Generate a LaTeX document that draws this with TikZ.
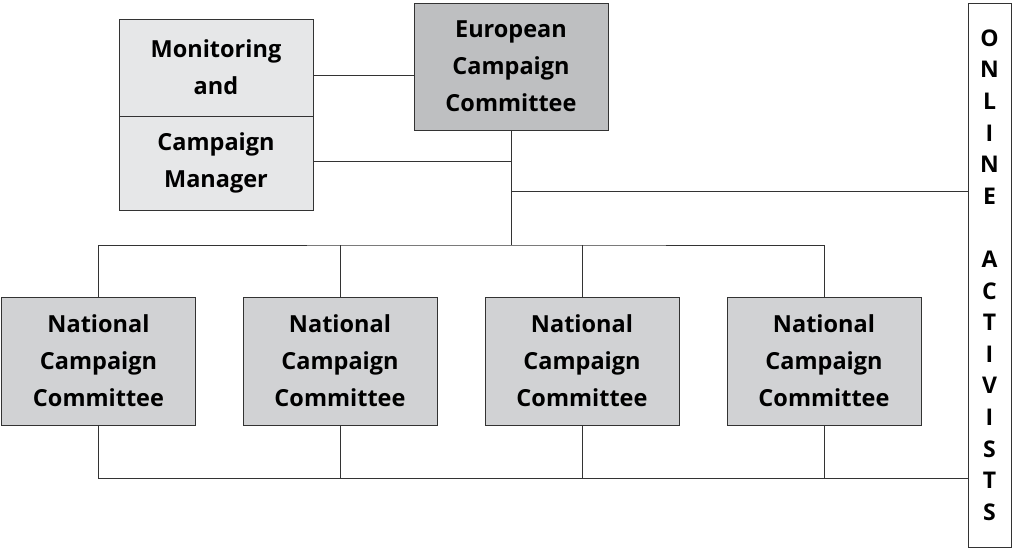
\documentclass[tikz,border=0pt]{standalone}
\usepackage{fontspec}
\setmainfont{Open Sans}
\usetikzlibrary{positioning}

\definecolor{euroGray}{RGB}{190,191,193}
\definecolor{natGray}{RGB}{209,210,212}
\definecolor{monGray}{RGB}{230,231,232}

\begin{document}
\begin{tikzpicture}[
    x=1pt, y=-1pt,
    box/.style={draw=black!80, line width=0.8pt, rectangle, inner sep=0pt, align=center,
        font=\bfseries\fontsize{23.5}{37}\selectfont},
    euro/.style={box, fill=euroGray, minimum width=194pt, minimum height=127pt},
    national/.style={box, fill=natGray, minimum width=194pt, minimum height=128pt},
    monitor/.style={box, fill=monGray, minimum width=194pt},
    link/.style={draw=black!80, line width=0.8pt}
]
    \useasboundingbox (0,0) rectangle (1013,549);

    % --- European level ---
    \node[euro] (euro) at (511, 66.5) {European\\Campaign\\Committee};

    % Monitoring box, split in two halves
    \node[monitor, minimum height=97pt] (mon) at (216, 67.5) {Monitoring\\and};
    \node[monitor, minimum height=94pt] (mgr) at (216, 163) {Campaign\\Manager};

    % --- Online activists column ---
    \node[box, fill=white, minimum width=43pt, minimum height=544pt,
        font=\bfseries\fontsize{23}{31.6}\selectfont] (online) at (989.5, 275)
        {O\\N\\L\\I\\N\\E\\ \\A\\C\\T\\I\\V\\I\\S\\T\\S};

    % --- National level ---
    \node[national] (nat1) at (98.5, 361) {National\\Campaign\\Committee};
    \node[national] (nat2) at (340, 361) {National\\Campaign\\Committee};
    \node[national] (nat3) at (582, 361) {National\\Campaign\\Committee};
    \node[national] (nat4) at (824, 361) {National\\Campaign\\Committee};

    % Junction points
    \coordinate (top) at (511, 245);
    \coordinate (jn) at (511, 191);
    \coordinate (bot) at (98.5, 478);

    % Links between the European boxes
    \draw[link] ([yshift=-7.5pt]mon.east) -- ([yshift=-7.5pt]mon.east -| euro.west);
    \draw[link] ([yshift=2pt]mgr.east) -- ([yshift=2pt]mgr.east -| euro.south);
    \draw[link] (euro.south) -- (top);
    \draw[link] (jn) -- (jn -| online.west);

    % Top bus to national committees
    \draw[link] (nat1.north) |- (top) -| (nat4.north);
    \draw[link] (nat2.north) -- (nat2.north |- top);
    \draw[link] (nat3.north) -- (nat3.north |- top);

    % Bottom bus to online activists
    \draw[link] (nat1.south) -- (bot) -- (bot -| online.west);
    \draw[link] (nat2.south) -- (nat2.south |- bot);
    \draw[link] (nat3.south) -- (nat3.south |- bot);
    \draw[link] (nat4.south) -- (nat4.south |- bot);

\end{tikzpicture}
\end{document}
